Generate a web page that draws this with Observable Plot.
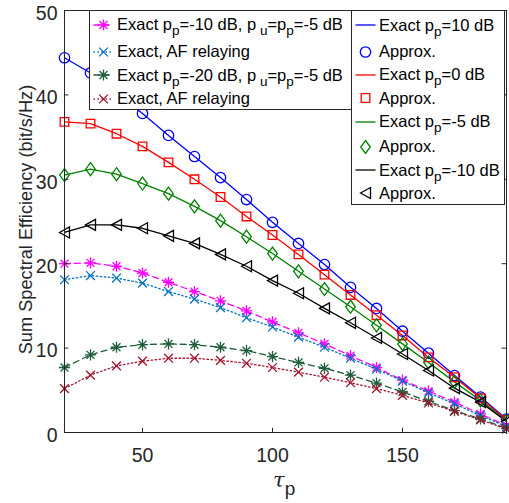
<!DOCTYPE html>
<html><head><meta charset="utf-8">
<script src="https://cdn.jsdelivr.net/npm/d3@7"></script>
<script src="https://cdn.jsdelivr.net/npm/@observablehq/plot@0.6"></script>
<style>
html,body{margin:0;padding:0;background:#fff;}
#wrap{position:relative;width:509px;height:503px;font-family:"Liberation Sans",Arial,sans-serif;color:#000;}
#wrap svg.plot{position:absolute;left:0;top:0;}
.leg{position:absolute;background:#fff;border:1px solid #262626;box-sizing:border-box;}
.row{position:absolute;left:0;height:24px;display:flex;align-items:center;white-space:nowrap;}
.row svg{flex:none;}
.t{font-size:16.5px;line-height:1;margin-left:1px;}
.t sub{font-size:13.5px;vertical-align:-0.4em;line-height:0;}
#xl{position:absolute;left:273px;top:469px;font-size:21px;line-height:1;color:#262626;}
#xl i{font-family:"DejaVu Serif","Liberation Serif",serif;}
#xl sub{font-family:"Liberation Sans",Arial,sans-serif;font-size:19px;vertical-align:-0.4em;}
</style>
</head><body>
<div id="wrap"></div>
<script>
// ---- data ----
const tau = [20,30,40,50,60,70,80,90,100,110,120,130,140,150,160,170,180,190];
const sePp10  = [44.4,42.6,40.2,37.8,35.2,32.7,30.2,27.6,24.9,22.4,19.9,17.2,14.7,12.0,9.4,6.75,4.2,1.6];
const sePp0   = [36.8,36.6,35.4,33.9,32.0,30.0,27.9,25.6,23.4,21.1,18.7,16.3,13.9,11.5,8.9,6.55,4.05,1.5];
const sePpM5  = [30.5,31.2,30.6,29.5,28.3,26.8,25.1,23.2,21.2,19.1,17.0,14.9,12.7,10.5,8.3,6.0,3.8,1.4];
const sePpM10 = [23.7,24.6,24.6,24.2,23.3,22.4,21.1,19.7,18.0,16.5,14.7,13.0,11.2,9.3,7.35,5.25,3.6,1.3];
const seRelayM10   = [20.0,20.1,19.7,18.9,17.8,16.7,15.6,14.4,13.1,11.8,10.5,9.1,7.7,6.2,4.9,3.6,2.2,0.8];
const seAfM10      = [18.1,18.6,18.3,17.7,16.7,15.8,14.8,13.6,12.5,11.3,10.1,8.8,7.5,6.1,4.7,3.4,2.0,0.7];
const seRelayM20   = [7.7,9.2,10.1,10.4,10.5,10.4,10.1,9.7,9.0,8.3,7.6,6.8,5.85,4.8,3.7,2.6,1.6,0.5];
const seAfM20      = [5.2,6.8,7.9,8.45,8.8,8.8,8.55,8.2,7.7,7.15,6.55,5.9,5.2,4.4,3.5,2.5,1.5,0.4];
const xTicks = [50,100,150];
const yTicks = [0,10,20,30,40,50];
const xDomain = [20,190];
const yDomain = [0,50];

const legendLeftLabels = [
  'Exact p<sub>p</sub>=-10 dB, p<sub>&nbsp;u</sub>=p<sub>p</sub>=-5 dB',
  'Exact, AF relaying',
  'Exact p<sub>p</sub>=-20 dB, p<sub>&nbsp;u</sub>=p<sub>p</sub>=-5 dB',
  'Exact, AF relaying'
];
const legendRightLabels = [
  'Exact p<sub>p</sub>=10 dB','Approx.',
  'Exact p<sub>p</sub>=0 dB','Approx.',
  'Exact p<sub>p</sub>=-5 dB','Approx.',
  'Exact p<sub>p</sub>=-10 dB','Approx.'
];

// ---- symbols ----
const sym = {
  circle:{draw(c){c.moveTo(5.2,0);c.arc(0,0,5.2,0,2*Math.PI);c.closePath();}},
  square:{draw(c){c.rect(-4.3,-4.3,8.6,8.6);}},
  diamond:{draw(c){c.moveTo(0,-6.5);c.lineTo(4.8,0);c.lineTo(0,6.5);c.lineTo(-4.8,0);c.closePath();}},
  triLeft:{draw(c){c.moveTo(-5,0);c.lineTo(5,-5.5);c.lineTo(5,5.5);c.closePath();}},
  asterisk:{draw(c){const a=5.6,b=a*Math.SQRT1_2;c.moveTo(-a,0);c.lineTo(a,0);c.moveTo(0,-a);c.lineTo(0,a);c.moveTo(-b,-b);c.lineTo(b,b);c.moveTo(-b,b);c.lineTo(b,-b);}},
  times:{draw(c){const a=4.4;c.moveTo(-a,-a);c.lineTo(a,a);c.moveTo(-a,a);c.lineTo(a,-a);}}
};

const magenta="#ff00ff", afBlue="#0072bd", dkGreen="#1e5e3b", dkRed="#a2142f";
const solidSeries = [
  {vals:sePp10, color:"#0000ff", symbol:sym.circle},
  {vals:sePp0, color:"#ff0000", symbol:sym.square},
  {vals:sePpM5, color:"#008000", symbol:sym.diamond},
  {vals:sePpM10, color:"#000000", symbol:sym.triLeft}
];
const lowSeries = [
  {vals:seRelayM10, color:magenta, dash:"6,4", symbol:sym.asterisk},
  {vals:seAfM10, color:afBlue, dash:"1.5,2.5", symbol:sym.times},
  {vals:seRelayM20, color:dkGreen, dash:"6,4", symbol:sym.asterisk},
  {vals:seAfM20, color:dkRed, dash:"1.5,2.5", symbol:sym.times}
];
const toRows = s => tau.map((t,i)=>({tau:t, se:s.vals[i]}));

const marks = [];
for (const s of solidSeries) marks.push(Plot.line(toRows(s), {x:"tau", y:"se", stroke:s.color, strokeWidth:1.3}));
for (const s of solidSeries) marks.push(Plot.dot(toRows(s), {x:"tau", y:"se", symbol:s.symbol, r:5, stroke:s.color, fill:"none", strokeWidth:1.3}));
for (const s of lowSeries) {
  marks.push(Plot.line(toRows(s), {x:"tau", y:"se", stroke:s.color, strokeWidth:1.3, strokeDasharray:s.dash}));
  marks.push(Plot.dot(toRows(s), {x:"tau", y:"se", symbol:s.symbol, r:5, stroke:s.color, fill:"none", strokeWidth:1.3}));
}
const tkY = 0.5, tkX = 1.7;
const axisCol = "#262626";
marks.push(
  Plot.ruleX(xTicks, {x:d=>d, y1:yDomain[0], y2:yDomain[0]+tkY, stroke:axisCol}),
  Plot.ruleX(xTicks, {x:d=>d, y1:yDomain[1]-tkY, y2:yDomain[1], stroke:axisCol}),
  Plot.ruleY(yTicks, {y:d=>d, x1:xDomain[0], x2:xDomain[0]+tkX, stroke:axisCol}),
  Plot.ruleY(yTicks, {y:d=>d, x1:xDomain[1]-tkX, x2:xDomain[1], stroke:axisCol}),
  Plot.frame({stroke:axisCol, strokeWidth:1}),
  Plot.axisX({ticks:xTicks, tickSize:0, tickPadding:16, fontSize:19.5, color:axisCol, label:null}),
  Plot.axisY({ticks:yTicks, tickSize:0, tickPadding:7, dy:3, fontSize:19.5, color:axisCol, label:null}),
  Plot.text([0], {frameAnchor:"left", textAnchor:"middle", lineAnchor:"middle", dx:-38.5, dy:-2, rotate:-90, text:()=>"Sum Spectral Efficiency (bit/s/Hz)", fontSize:18.2, fill:axisCol})
);

const chart = Plot.plot({
  width:509, height:503,
  marginLeft:64, marginRight:3, marginTop:10, marginBottom:71,
  x:{domain:xDomain}, y:{domain:yDomain},
  style:{fontFamily:"'Liberation Sans', Arial, sans-serif", background:"transparent", overflow:"visible"},
  marks
});
chart.classList.add("plot");
const wrap = document.getElementById("wrap");
wrap.appendChild(chart);

// ---- legends ----
function sampleSvg(color, dash, symbol, showLine) {
  const p = d3.path(); if (symbol) symbol.draw(p);
  return `<svg width="25" height="24" viewBox="-12.5 -12 25 24" overflow="visible">`+
    (showLine ? `<line x1="-10" x2="10" y1="0" y2="0" stroke="${color}" stroke-width="1.3" ${dash?`stroke-dasharray="${dash}"`:""}/>` : "")+
    (symbol ? `<path d="${p}" fill="none" stroke="${color}" stroke-width="1.3"/>` : "")+
    `</svg>`;
}
function legend(box, items, centers) {
  const d = document.createElement("div");
  d.className = "leg";
  Object.assign(d.style, {left:box[0]+"px", top:box[1]+"px", width:box[2]+"px", height:box[3]+"px"});
  items.forEach((it,i)=>{
    const r = document.createElement("div");
    r.className = "row";
    r.style.top = (centers[i]-box[1]-1-12)+"px";
    r.style.left = "1px";
    r.innerHTML = sampleSvg(it.color, it.dash, it.symbol, it.line) + `<span class="t">${it.label}</span>`;
    wrap.appendChild(d); d.appendChild(r);
  });
}
legend([89,10,263,100],
  lowSeries.map((s,i)=>({color:s.color, dash:s.dash, symbol:s.symbol, line:true, label:legendLeftLabels[i]})),
  [24.5,51.5,75,98.5]);
const rightItems = [];
solidSeries.forEach((s,i)=>{
  rightItems.push({color:s.color, line:true, label:legendRightLabels[2*i]});
  rightItems.push({color:s.color, symbol:s.symbol, label:legendRightLabels[2*i+1]});
});
legend([351,10,154,195], rightItems, [25,51.7,74.5,98.3,121.7,146.7,170,193.3]);

const xl = document.createElement("div");
xl.id = "xl";
xl.innerHTML = "<i>τ</i><sub>p</sub>";
wrap.appendChild(xl);
</script>
</body></html>
